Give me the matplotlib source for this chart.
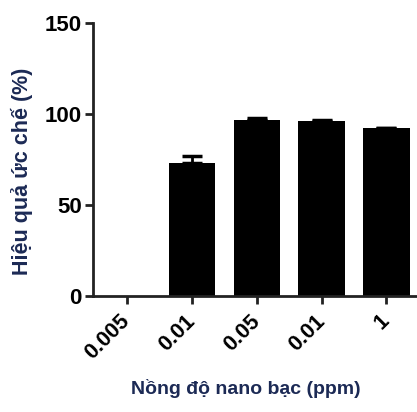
import matplotlib
matplotlib.use('Agg')
import matplotlib.pyplot as plt
from matplotlib import transforms

categories = ['0.005', '0.01', '0.05', '0.01', '1']
values = [0, 73.3, 96.8, 96.2, 92.2]
errors = [0, 3.5, 1.0, 0.6, 0.3]

plt.rcParams['font.family'] = ['Liberation Sans', 'DejaVu Sans']

fig = plt.figure(figsize=(4.17, 4.12), dpi=100)
ax = fig.add_axes([0.223, 0.282, 0.777, 0.662])

x = range(len(categories))
ax.bar(x, values, width=0.71, color='black', zorder=2)
ax.errorbar(x[1:], values[1:], yerr=[[0] * 4, errors[1:]], fmt='none',
            ecolor='black', elinewidth=2, capsize=7.5, capthick=2.5, zorder=3)

ax.set_xlim(-0.52, 4.47)
ax.set_ylim(0, 150)
ax.set_yticks([0, 50, 100, 150])
ax.set_xticks(list(x))
ax.set_xticklabels(categories, rotation=45, ha='right', va='center',
                   rotation_mode='anchor', fontsize=15.5, fontweight='bold')
shift = transforms.ScaledTranslation(-4 / 100, -2 / 100, fig.dpi_scale_trans)
for lab in ax.get_xticklabels():
    lab.set_transform(lab.get_transform() + shift)
for lab in ax.get_yticklabels():
    lab.set_fontsize(16)
    lab.set_fontweight('bold')

for s in ['top', 'right']:
    ax.spines[s].set_visible(False)
for s in ['left', 'bottom']:
    ax.spines[s].set_linewidth(2)
    ax.spines[s].set_color('#222222')
ax.tick_params(width=2, length=6, color='#222222')
ax.tick_params(axis='y', pad=2)
ax.tick_params(axis='x', pad=10)

ax.set_ylabel('Hiệu quả ức chế (%)', fontsize=15.5, fontweight='bold',
              color='#1c2a55', va='center')
ax.yaxis.set_label_coords(-0.219, 0.458)
ax.set_xlabel('Nồng độ nano bạc (ppm)', fontsize=14, fontweight='bold',
              color='#1c2a55', va='center')
ax.xaxis.set_label_coords(0.472, -0.34)

fig.savefig('out.png', dpi=100)
